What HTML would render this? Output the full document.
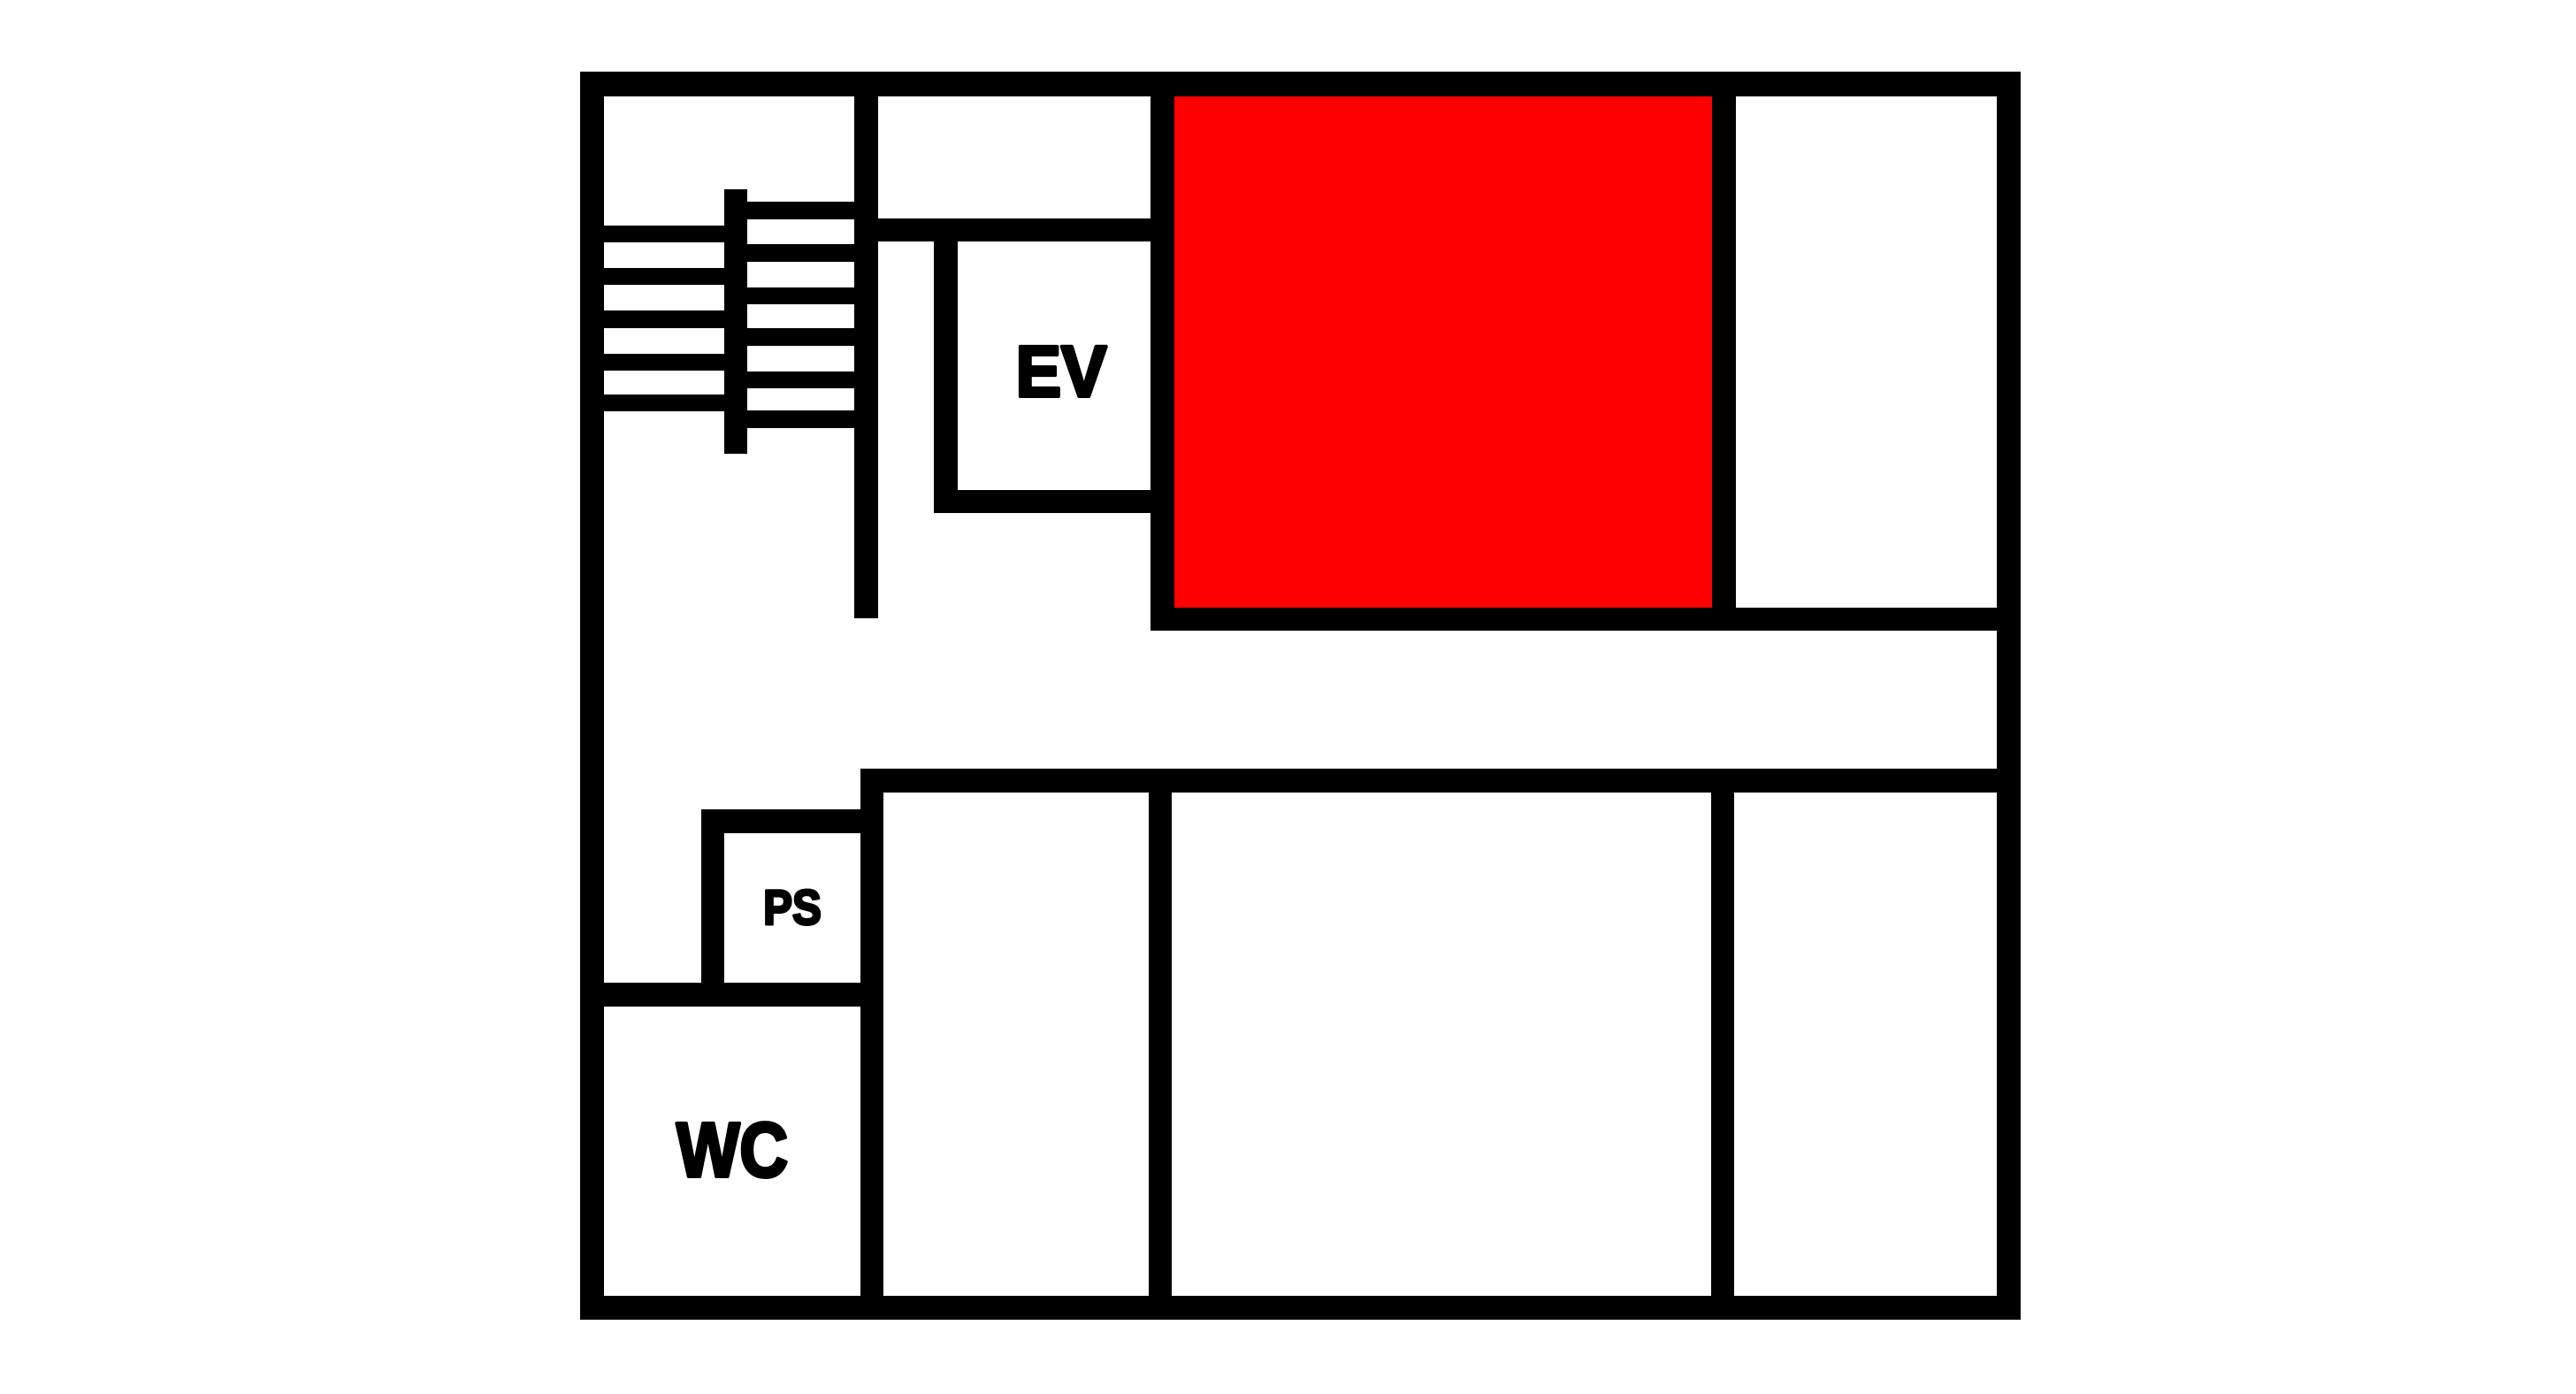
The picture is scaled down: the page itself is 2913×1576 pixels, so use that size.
<!DOCTYPE html>
<html><head><meta charset="utf-8"><style>
html,body{margin:0;padding:0;background:#fff;width:2913px;height:1576px;overflow:hidden}
svg{display:block}
text{font-family:"Liberation Sans",Arial,sans-serif;font-weight:bold;fill:#000;stroke:#000;stroke-linejoin:round}
</style></head><body>
<svg width="2913" height="1576" viewBox="0 0 2913 1576" xmlns="http://www.w3.org/2000/svg">
<rect x="0" y="0" width="2913" height="1576" fill="#fff"/>
<rect x="1327" y="109" width="610" height="579" fill="#ff0000"/>
<g fill="#000">
<rect x="656" y="81" width="1629" height="28"/>
<rect x="656" y="1465" width="1629" height="27"/>
<rect x="656" y="81" width="27" height="1411"/>
<rect x="2258" y="81" width="27" height="1411"/>
<rect x="966" y="81" width="27" height="618"/>
<rect x="819" y="214" width="26" height="299"/>
<rect x="683" y="255" width="136" height="19"/>
<rect x="683" y="303" width="136" height="19"/>
<rect x="683" y="351" width="136" height="20"/>
<rect x="683" y="400" width="136" height="19"/>
<rect x="683" y="446" width="136" height="19"/>
<rect x="845" y="228" width="121" height="20"/>
<rect x="845" y="276" width="121" height="20"/>
<rect x="845" y="325" width="121" height="19"/>
<rect x="845" y="371" width="121" height="20"/>
<rect x="845" y="420" width="121" height="19"/>
<rect x="845" y="464" width="121" height="20"/>
<rect x="993" y="247" width="308" height="26"/>
<rect x="1056" y="247" width="27" height="333"/>
<rect x="1056" y="554" width="245" height="26"/>
<rect x="1301" y="81" width="27" height="632"/>
<rect x="1301" y="687" width="984" height="26"/>
<rect x="1936" y="81" width="27" height="632"/>
<rect x="973" y="869" width="1312" height="27"/>
<rect x="973" y="869" width="26" height="623"/>
<rect x="1299" y="869" width="26" height="623"/>
<rect x="1935" y="869" width="26" height="623"/>
<rect x="793" y="915" width="26" height="223"/>
<rect x="793" y="915" width="180" height="27"/>
<rect x="656" y="1111" width="317" height="27"/>
</g>
<text transform="translate(1200,448) scale(0.94,1)" x="0" y="0" font-size="82" stroke-width="4" text-anchor="middle">EV</text>
<text transform="translate(896,1045) scale(0.88,1)" x="0" y="0" font-size="56" stroke-width="3" text-anchor="middle">PS</text>
<text transform="translate(828,1330) scale(0.87,1)" x="0" y="0" font-size="87" stroke-width="4" text-anchor="middle">WC</text>
</svg>
</body></html>
